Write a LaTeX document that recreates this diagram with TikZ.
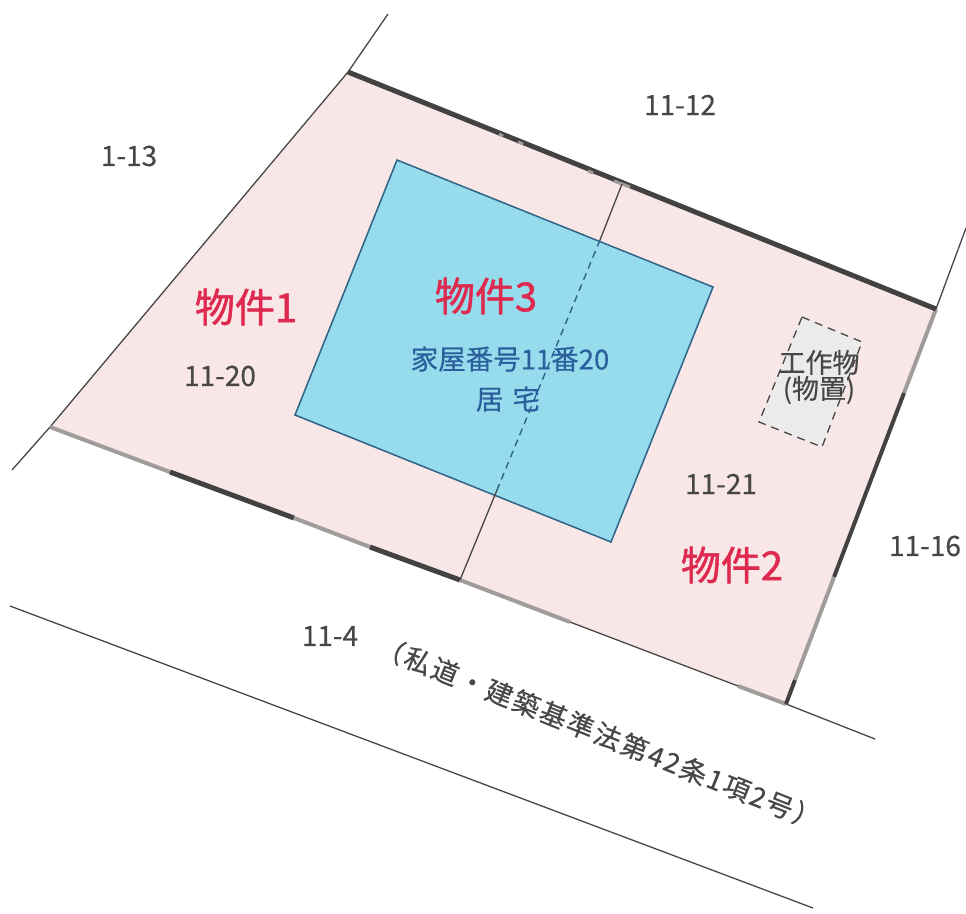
\documentclass[tikz,border=0pt]{standalone}
\usepackage{fontspec}
\setmainfont{Noto Sans CJK JP}
\newfontfamily\midfont[FakeBold=0.35]{Noto Sans CJK JP}
\newfontfamily\heavyfont[FakeBold=1.3]{Noto Sans CJK JP}
\newfontfamily\roadfont[FakeBold=0.5,LetterSpace=8]{Noto Sans CJK JP}
\definecolor{lotpink}{HTML}{F9E7E8}
\definecolor{bldblue}{HTML}{96DCEC}
\definecolor{bldedge}{HTML}{2F6388}
\definecolor{labred}{HTML}{DF2A50}
\definecolor{labblue}{HTML}{2B5F9C}
\definecolor{labgray}{HTML}{474747}
\definecolor{linedark}{HTML}{424242}
\definecolor{linegray}{HTML}{A09C9C}
\definecolor{shedfill}{HTML}{EBEBEB}
\tikzset{
  thinline/.style={draw=labgray,line width=1.3pt},
  heavyline/.style={draw=linedark,line width=5pt},
  sideline/.style={draw=linedark,line width=4pt},
  grayline/.style={draw=linegray,line width=4pt},
  numlabel/.style={text=labgray,font=\midfont\fontsize{28}{30}\selectfont,inner sep=0pt},
  redlabel/.style={text=labred,font=\heavyfont\fontsize{40}{42}\selectfont,inner sep=0pt},
  bluelabel/.style={text=labblue,font=\midfont\fontsize{27.5}{30}\selectfont,inner sep=0pt},
  shedlabel/.style={text=labgray,font=\midfont\fontsize{27}{28}\selectfont,inner sep=0pt,align=center},
  roadlabel/.style={text=labgray,font=\roadfont\fontsize{27}{28}\selectfont,inner sep=0pt,rotate=-21.8},
}
\begin{document}
\begin{tikzpicture}[x=1pt,y=-1pt]
\useasboundingbox (0,0) rectangle (966,913);
% lot corners
\coordinate (tl) at (348,72);
\coordinate (tr) at (936,309);
\coordinate (br) at (786,704);
\coordinate (bl) at (50,427);
\coordinate (st) at (622,184);
\coordinate (sb) at (460,580);
% building corners
\coordinate (b1) at (397,160);
\coordinate (b2) at (713,287);
\coordinate (b3) at (611,542);
\coordinate (b4) at (295,415);
\coordinate (di) at (600,240);
\coordinate (de) at (497,490);
% free ends
\coordinate (e1) at (388,14);
\coordinate (e2) at (12,470);
\coordinate (e3) at (966,228);
\coordinate (e4) at (875,739);
\coordinate (r1) at (10,606);
\coordinate (r2) at (813,908);
% boundary stations
\coordinate (s1) at (170,472);
\coordinate (s2) at (294,518);
\coordinate (s3) at (370,547);
\coordinate (s4) at (570,622);
\coordinate (s5) at (738,686);
\coordinate (s6) at (904,393);
\coordinate (s7) at (834,577);
\coordinate (s8) at (795,680);
% gray flecks on the top boundary
\coordinate (f1) at (499,134);
\coordinate (f2) at (503,136);
\coordinate (f3) at (518,142);
\coordinate (f4) at (523,144);
\coordinate (f5) at (588,171);
\coordinate (f6) at (593,173);
\coordinate (f7) at (614,181);
\coordinate (f8) at (630,187);
% shed
\coordinate (h1) at (802,317);
\coordinate (h2) at (862,342);
\coordinate (h3) at (822,447);
\coordinate (h4) at (759,422);

\fill[lotpink] (tl)--(tr)--(br)--(bl)--cycle;
\draw[thinline] (bl)--(tl)--(e1);
\draw[thinline] (bl)--(e2);
\draw[thinline] (tr)--(e3);
\draw[thinline] (br)--(e4);
\draw[thinline] (r1)--(r2);
\draw[thinline] (s4)--(s5);

\draw[grayline] (bl)--(s1);
\draw[heavyline] (s1)--(s2);
\draw[grayline] (s2)--(s3);
\draw[heavyline] (s3)--(sb);
\draw[grayline] (sb)--(s4);
\draw[grayline] (s5)--(br);
\draw[grayline] (tr)--(s6);
\draw[sideline] (s6)--(s7);
\draw[grayline] (s7)--(s8);
\draw[sideline] (s8)--(br);
\draw[heavyline] (tl)--(tr);
\draw[grayline,line width=3pt] (f1)--(f2);
\draw[grayline,line width=3pt] (f3)--(f4);
\draw[grayline,line width=3pt] (f5)--(f6);
\draw[grayline,line width=3pt] (f7)--(f8);

\fill[bldblue] (b1)--(b2)--(b3)--(b4)--cycle;
\draw[draw=bldedge,line width=1.5pt,line join=miter] (b1)--(b2)--(b3)--(b4)--cycle;
\draw[thinline] (st)--(di);
\draw[thinline] (de)--(sb);
\draw[draw=bldedge,line width=1.4pt,dash pattern=on 7pt off 5pt] (di)--(de);

\fill[shedfill] (h1)--(h2)--(h3)--(h4)--cycle;
\draw[draw=labgray,line width=1.3pt,dash pattern=on 8pt off 6pt] (h1)--(h2)--(h3)--(h4)--cycle;

\node[numlabel] (n1) at (129,156) {1-13};
\node[numlabel] (n2) at (680,105) {11-12};
\node[numlabel] (n3) at (220,376) {11-20};
\node[numlabel] (n4) at (721,484) {11-21};
\node[numlabel] (n5) at (925,546) {11-16};
\node[numlabel] (n6) at (330,636) {11-4};
\node[redlabel] (k1) at (246,307) {物件1};
\node[redlabel] (k2) at (732,565) {物件2};
\node[redlabel] (k3) at (486,296) {物件3};
\node[bluelabel] (t1) at (510,359) {家屋番号11番20};
\node[bluelabel] (t2) at (508,399) {居\,\,宅};
\node[shedlabel] (t3) at (819,377) {工作物\\[-2pt](物置)};
\node[roadlabel] (t4) at (599,733) {（私道・建築基準法第42条1項2号）};
\end{tikzpicture}
\end{document}
